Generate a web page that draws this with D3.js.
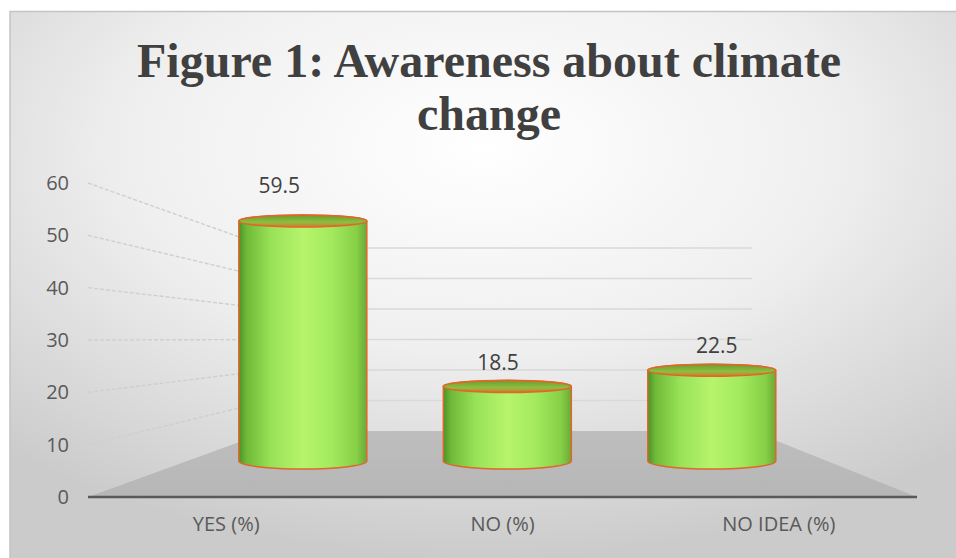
<!DOCTYPE html>
<html>
<head>
<meta charset="utf-8">
<script src="https://cdn.jsdelivr.net/npm/d3@7"></script>
<style>
  body { margin: 0; background: #fff; }
  svg { display: block; }
</style>
</head>
<body>
<svg id="chart"></svg>
<script>
// chart values
var categories = ["YES (%)", "NO (%)", "NO IDEA (%)"];
var values = [59.5, 18.5, 22.5];
var yTicks = [0, 10, 20, 30, 40, 50, 60];
var titleLines = ["Figure 1: Awareness about climate", "change"];

var width = 956, height = 558;

var svg = d3.select("#chart")
    .attr("width", width)
    .attr("height", height);

var defs = svg.append("defs");

var bg = defs.append("radialGradient")
    .attr("id", "bg")
    .attr("cx", "50%").attr("cy", "25%").attr("r", "75%");
bg.append("stop").attr("offset", "0%").attr("stop-color", "#ffffff");
bg.append("stop").attr("offset", "50%").attr("stop-color", "#efefef");
bg.append("stop").attr("offset", "100%").attr("stop-color", "#cbcbcb");

var body = defs.append("linearGradient")
    .attr("id", "cyl").attr("x1", "0%").attr("x2", "100%").attr("y1", "0%").attr("y2", "0%");
[["0%", "#4a9228"], ["6%", "#6fb938"], ["25%", "#98e257"], ["50%", "#b6f46c"],
 ["72%", "#a3ea5e"], ["92%", "#86cf46"], ["100%", "#6aa936"]].forEach(function(s) {
    body.append("stop").attr("offset", s[0]).attr("stop-color", s[1]);
});

var topGrad = defs.append("linearGradient")
    .attr("id", "cyltop").attr("x1", "0%").attr("x2", "0%").attr("y1", "0%").attr("y2", "100%");
topGrad.append("stop").attr("offset", "0%").attr("stop-color", "#6f9a2e");
topGrad.append("stop").attr("offset", "60%").attr("stop-color", "#8cbf40");
topGrad.append("stop").attr("offset", "100%").attr("stop-color", "#d9772c");

var floorGrad = defs.append("linearGradient")
    .attr("id", "floor").attr("x1", "0%").attr("x2", "0%").attr("y1", "0%").attr("y2", "100%");
floorGrad.append("stop").attr("offset", "0%").attr("stop-color", "#bebebe");
floorGrad.append("stop").attr("offset", "100%").attr("stop-color", "#b6b6b6");

// chart area
svg.append("rect")
    .attr("x", 10).attr("y", 11)
    .attr("width", width - 10).attr("height", height - 11)
    .attr("fill", "url(#bg)");
svg.append("path")
    .attr("d", "M10," + height + "V11.5H" + width)
    .attr("fill", "none")
    .attr("stroke", "#c4c4c4")
    .attr("stroke-width", 1.5);

// 3D frame: front plane, back wall, vanishing point
var front = {left: 88, right: 917};
var back = {left: 270, right: 752};
var vpx = 521, depthX = 0.74;

var x = d3.scaleBand()
    .domain(categories)
    .range([front.left, front.right]);

var yFront = d3.scaleLinear().domain([0, 60]).range([497, 183]);
var yBack = d3.scaleLinear().domain([0, 60]).range([431, 248]);
var yBar = d3.scaleLinear().domain([0, 60]).range([461, 219]);
var yLabel = d3.scaleLinear().domain([0, 60]).range([450, 191]);
var xLabel = d3.scaleLinear().domain([front.left, front.right]).range([170, 826]);

// back wall gridlines
svg.append("g")
    .selectAll("line")
    .data(yTicks.filter(function(d) { return d > 0; }))
    .enter().append("line")
    .attr("x1", back.left).attr("x2", back.right)
    .attr("y1", function(d) { return yBack(d); })
    .attr("y2", function(d) { return yBack(d); })
    .attr("stroke", "#d9d9d9")
    .attr("stroke-width", 1.5);

// side wall gridlines
svg.append("g")
    .selectAll("line")
    .data(yTicks.filter(function(d) { return d > 0; }))
    .enter().append("line")
    .attr("x1", front.left).attr("x2", back.left)
    .attr("y1", function(d) { return yFront(d); })
    .attr("y2", function(d) { return yBack(d); })
    .attr("stroke", "#cfcfcf")
    .attr("stroke-width", 1.4)
    .attr("stroke-dasharray", "4,2");

// floor
svg.append("path")
    .attr("d", "M" + front.left + "," + yFront(0) +
               "L" + back.left + "," + yBack(0) +
               "L" + back.right + "," + yBack(0) +
               "L" + front.right + "," + yFront(0) + "Z")
    .attr("fill", "url(#floor)");

svg.append("line")
    .attr("x1", front.left).attr("x2", front.right)
    .attr("y1", yFront(0)).attr("y2", yFront(0))
    .attr("stroke", "#595959")
    .attr("stroke-width", 2.5);

// cylinders
var rx = 64, ryTop = 6, ryBot = 8;
function cx(c) { return vpx + (x(c) + x.bandwidth() / 2 - vpx) * depthX; }

var bars = svg.append("g")
    .selectAll("g")
    .data(categories.map(function(c, i) { return {cat: c, value: values[i]}; }))
    .enter().append("g");

bars.append("path")
    .attr("d", function(d) {
        var l = cx(d.cat) - rx, r = cx(d.cat) + rx,
            t = yBar(d.value), b = yBar(0);
        return "M" + l + "," + t + "L" + l + "," + b +
               "A" + rx + "," + ryBot + " 0 0 0 " + r + "," + b +
               "L" + r + "," + t +
               "A" + rx + "," + ryTop + " 0 0 0 " + l + "," + t + "Z";
    })
    .attr("fill", "url(#cyl)")
    .attr("stroke", "#e0662a")
    .attr("stroke-width", 1.5);

bars.append("ellipse")
    .attr("cx", function(d) { return cx(d.cat); })
    .attr("cy", function(d) { return yBar(d.value); })
    .attr("rx", rx).attr("ry", ryTop)
    .attr("fill", "url(#cyltop)")
    .attr("stroke", "#e0662a")
    .attr("stroke-width", 1.6);

bars.append("text")
    .attr("x", function(d) { return xLabel(x(d.cat) + x.bandwidth() / 2); })
    .attr("y", function(d) { return yLabel(d.value); })
    .attr("text-anchor", "middle")
    .attr("font-family", "'Open Sans', sans-serif")
    .attr("font-size", 21)
    .attr("fill", "#404040")
    .text(function(d) { return d.value; });

// axes
var yAxis = svg.append("g")
    .attr("transform", "translate(" + 69 + ",0)")
    .call(d3.axisLeft(yFront).tickValues(yTicks).tickSize(0).tickPadding(0));
yAxis.select(".domain").remove();

var xAxis = svg.append("g")
    .attr("transform", "translate(0," + 517 + ")")
    .call(d3.axisBottom(x).tickSize(0).tickPadding(0));
xAxis.select(".domain").remove();

svg.selectAll(".tick text")
    .attr("font-family", "'Open Sans', sans-serif")
    .attr("font-size", 20)
    .attr("fill", "#595959");

// title
svg.append("text")
    .attr("x", 489)
    .attr("text-anchor", "middle")
    .attr("font-family", "'Liberation Serif', 'Times New Roman', serif")
    .attr("font-weight", "bold")
    .attr("font-size", 48)
    .attr("fill", "#404040")
    .selectAll("tspan")
    .data(titleLines)
    .enter().append("tspan")
    .attr("x", 489)
    .attr("y", function(d, i) { return 77 + i * 53; })
    .text(function(d) { return d; });
</script>
</body>
</html>
